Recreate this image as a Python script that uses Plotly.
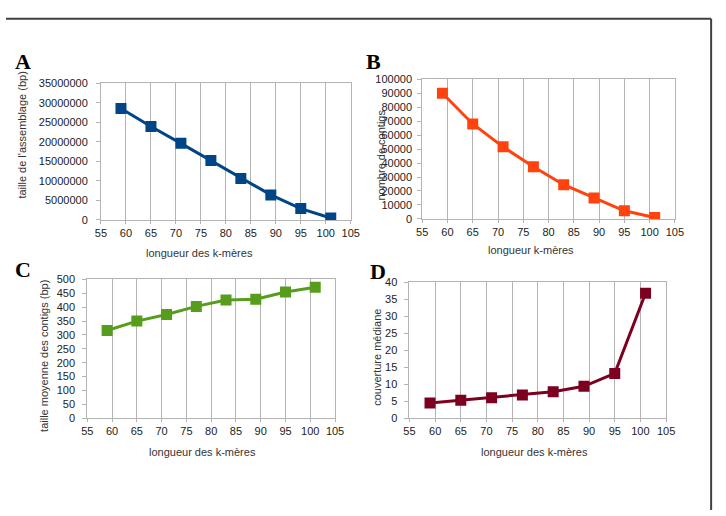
import plotly.graph_objects as go

kmer = [59, 65, 71, 77, 83, 89, 95, 101]
taille_assemblage = [28500000, 23900000, 19600000, 15200000, 10600000, 6400000, 2900000, 500000]
nombre_contigs = [90000, 68000, 51600, 37400, 24500, 15000, 5800, 1000]
taille_moyenne = [316, 350, 374, 403, 426, 429, 455, 472]
couverture_mediane = [4.5, 5.3, 6.0, 6.8, 7.8, 9.4, 13.2, 36.8]

W, H = 726, 516
def px(x0, x1):
    return [x0 / W, x1 / W]
def py(y0, y1):
    return [1 - y1 / H, 1 - y0 / H]

panels = [
    dict(data=taille_assemblage, color="#004586", xd=px(97, 352), yd=py(79, 219),
         yr=[0, 35000000], dt=5000000, letter="A", lpos=(7, 57), so=6,
         ytitle="taille de l'assemblage (bp)", ytpos=(16, 132),
         xtitle="longueur des k-mères", xtpos=(198, 253)),
    dict(data=nombre_contigs, color="#ff420e", xd=px(425, 683), yd=py(75, 218),
         yr=[0, 100000], dt=10000, letter="B", lpos=(366, 57), so=3,
         ytitle="nombre de contigs", ytpos=(383, 153),
         xtitle="longueur k-mères", xtpos=(536, 250)),
    dict(data=taille_moyenne, color="#579d1c", xd=px(83, 336), yd=py(280, 422),
         yr=[0, 500], dt=50, letter="C", lpos=(7, 270), so=5,
         ytitle="taille moyenne des contigs (bp)", ytpos=(38, 358),
         xtitle="longueur des k-mères", xtpos=(201, 457)),
    dict(data=couverture_mediane, color="#7e0021", xd=px(412, 674), yd=py(283, 422),
         yr=[0, 40], dt=5, letter="D", lpos=(370, 272), so=5,
         ytitle="couverture médiane", ytpos=(378, 360),
         xtitle="longueur des k-mères", xtpos=(540, 457)),
]

fig = go.Figure()
annotations = []
tickfont = dict(family="Liberation Sans, Arial, sans-serif", size=11, color="#222222")
titlefont = dict(family="Liberation Sans, Arial, sans-serif", size=11, color="#333333")
grid = "#b3b3b3"

for i, p in enumerate(panels, start=1):
    sfx = "" if i == 1 else str(i)
    fig.add_trace(go.Scatter(
        x=kmer, y=p["data"], mode="lines+markers",
        line=dict(color=p["color"], width=3),
        marker=dict(symbol="square", size=11, color=p["color"]),
        xaxis="x" + sfx, yaxis="y" + sfx, showlegend=False,
    ))
    fig.layout["xaxis" + sfx] = dict(
        domain=p["xd"], anchor="y" + sfx, range=[55, 105], dtick=5, tick0=55,
        showgrid=True, gridcolor=grid, gridwidth=1, showline=True, linecolor=grid,
        mirror=True, ticks="outside", ticklen=3, tickcolor=grid, tickfont=tickfont,
        zeroline=False, fixedrange=True,
    )
    fig.layout["yaxis" + sfx] = dict(
        domain=p["yd"], anchor="x" + sfx, range=p["yr"], dtick=p["dt"], tick0=0,
        showgrid=False, showline=True, linecolor=grid, mirror=True,
        ticks="outside", ticklen=4, tickcolor=grid, tickfont=tickfont,
        ticklabelstandoff=p["so"],
        tickformat="d", zeroline=False, fixedrange=True,
    )
    annotations.append(dict(
        text="<b>" + p["letter"] + "</b>", x=p["lpos"][0] / W, y=1 - p["lpos"][1] / H,
        xref="paper", yref="paper", xanchor="left", yanchor="middle", showarrow=False,
        font=dict(family="Liberation Serif, Times New Roman, serif", size=22, color="#000000"),
    ))
    annotations.append(dict(
        text=p["ytitle"], x=p["ytpos"][0] / W, y=1 - p["ytpos"][1] / H,
        xref="paper", yref="paper", xanchor="center", yanchor="middle", showarrow=False,
        textangle=-90, font=titlefont,
    ))
    annotations.append(dict(
        text=p["xtitle"], x=p["xtpos"][0] / W, y=1 - p["xtpos"][1] / H,
        xref="paper", yref="paper", xanchor="center", yanchor="middle", showarrow=False,
        font=titlefont,
    ))

shapes = [
    dict(type="line", xref="paper", yref="paper", x0=0, x1=720 / W, y0=1 - 13 / H, y1=1 - 13 / H,
         line=dict(color="#404040", width=2)),
    dict(type="line", xref="paper", yref="paper", x0=720 / W, x1=720 / W, y0=0, y1=1 - 13 / H,
         line=dict(color="#404040", width=2)),
]

fig.update_layout(
    width=W, height=H, margin=dict(l=0, r=0, t=0, b=0),
    paper_bgcolor="white", plot_bgcolor="white",
    annotations=annotations, shapes=shapes,
)

fig.write_html("out.html", config={"displayModeBar": False})
